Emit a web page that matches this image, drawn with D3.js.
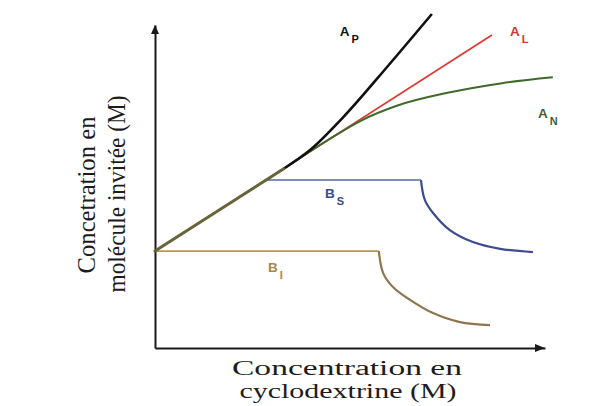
<!DOCTYPE html>
<html>
<head>
<meta charset="utf-8">
<script src="https://cdn.jsdelivr.net/npm/d3@7"></script>
<style>
  html, body { margin: 0; padding: 0; background: #fff; }
  svg { display: block; }
</style>
</head>
<body>
<svg id="chart" width="615" height="406"></svg>
<script>
// ---- Data (arbitrary units) ----
// shared rising segment (all A-type curves start on it)
const commonX = [0, 3.3];
const commonY = [3.0, 5.55];

const apX = [3.3, 4.0, 4.8, 6.0, 7.10];
const apY = [5.55, 6.15, 7.11, 8.77, 10.34];

const alX = [0, 8.64];
const alY = [3.0, 9.69];

const anX = [3.3, 4.41, 5.3, 6.2, 7.5, 8.9, 10.2];
const anY = [5.55, 6.42, 7.05, 7.5, 7.9, 8.2, 8.38];

const bsLineX = [0, 2.84, 6.82];
const bsLineY = [3.0, 5.2, 5.2];
const bsCurveX = [6.82, 6.92, 7.13, 7.56, 8.15, 8.85, 9.69];
const bsCurveY = [5.2, 4.58, 4.18, 3.65, 3.28, 3.07, 2.97];

const biLineX = [0, 5.74];
const biLineY = [3.0, 3.0];
const biCurveX = [5.74, 5.85, 6.10, 6.54, 7.13, 7.82, 8.59];
const biCurveY = [3.0, 2.32, 1.89, 1.49, 1.08, 0.80, 0.71];

// labels: main letter, subscript, anchor position in data units
const labelMain = ["A", "A", "A", "B", "B"];
const labelSub  = ["P", "L", "N", "S", "I"];
const labelX    = [4.74, 9.10, 9.82, 4.36, 2.90];
const labelY    = [9.66, 9.66, 7.12, 4.64, 2.36];

const xTitle = ["Concentration en", "cyclodextrine (M)"];
const yTitle = ["Concetration en", "molécule invitée (M)"];

// ---- Scales ----
const x = d3.scaleLinear().domain([0, 10]).range([155, 545]);
const y = d3.scaleLinear().domain([0, 10]).range([348, 25]);

const svg = d3.select("#chart");
const zip = (xs, ys) => xs.map((v, i) => [v, ys[i]]);

const lin = d3.line().x(d => x(d[0])).y(d => y(d[1])).curve(d3.curveLinear);
const mono = d3.line().x(d => x(d[0])).y(d => y(d[1])).curve(d3.curveMonotoneX);
const smooth = d3.line().x(d => x(d[0])).y(d => y(d[1])).curve(d3.curveCatmullRom.alpha(0.5));

// ---- Axes (no ticks) ----
const axisColor = "#1a1a1a";
const gx = svg.append("g").attr("transform", `translate(0,${y(0)})`)
  .call(d3.axisBottom(x).tickValues([]).tickSizeOuter(0));
gx.select(".domain").attr("stroke", axisColor).attr("stroke-width", 2);
const gy = svg.append("g").attr("transform", `translate(${x(0)},0)`)
  .call(d3.axisLeft(y).tickValues([]).tickSizeOuter(0));
gy.select(".domain").attr("stroke", axisColor).attr("stroke-width", 2);

// arrowheads
svg.append("path")
  .attr("d", `M${x(10)},${y(0)} l-10,-4 l0,8 Z`)
  .attr("fill", axisColor);
svg.append("path")
  .attr("d", `M${x(0)},${y(10)} l-4,9 l8,0 Z`)
  .attr("fill", axisColor);

// ---- Curves ----
// B_S
svg.append("path").attr("d", lin(zip(bsLineX, bsLineY)))
  .attr("fill", "none").attr("stroke", "#5868a8").attr("stroke-width", 1.4);
svg.append("path").attr("d", smooth(zip(bsCurveX, bsCurveY)))
  .attr("fill", "none").attr("stroke", "#3b4b8e").attr("stroke-width", 2.2);
// B_I
svg.append("path").attr("d", lin(zip(biLineX, biLineY)))
  .attr("fill", "none").attr("stroke", "#b8955a").attr("stroke-width", 1.6);
svg.append("path").attr("d", smooth(zip(biCurveX, biCurveY)))
  .attr("fill", "none").attr("stroke", "#8e7650").attr("stroke-width", 2.2);
// A_L
svg.append("path").attr("d", lin(zip(alX, alY)))
  .attr("fill", "none").attr("stroke", "#dc3a32").attr("stroke-width", 1.7);
// A_N
svg.append("path").attr("d", mono(zip(anX, anY)))
  .attr("fill", "none").attr("stroke", "#3f6a2c").attr("stroke-width", 2.0);
// A_P
svg.append("path").attr("d", mono(zip(apX, apY)))
  .attr("fill", "none").attr("stroke", "#111").attr("stroke-width", 2.6);
// common rising segment (olive blend of the overlapping curves)
svg.append("path").attr("d", lin(zip(commonX, commonY)))
  .attr("fill", "none").attr("stroke", "#66653a").attr("stroke-width", 3)
  .attr("stroke-linecap", "round");

// ---- Labels ----
const labelColors = ["#111", "#d8352b", "#3d5f33", "#3a4a8e", "#a8884a"];
labelMain.forEach((m, i) => {
  const t = svg.append("text")
    .attr("x", x(labelX[i])).attr("y", y(labelY[i]))
    .attr("font-family", "Liberation Sans, Arial, sans-serif")
    .attr("font-weight", "bold").attr("font-size", 13.5)
    .attr("fill", labelColors[i]);
  t.append("tspan").text(m);
  t.append("tspan").attr("dx", 2).attr("dy", 7).attr("font-size", 11).text(labelSub[i]);
});

// ---- Axis titles ----
const serif = "Liberation Serif, Times New Roman, serif";
const xtPos = [[347, 375, 230], [348, 398, 217]];
xTitle.forEach((s, i) => {
  svg.append("text")
    .attr("x", xtPos[i][0]).attr("y", xtPos[i][1])
    .attr("text-anchor", "middle")
    .attr("font-family", serif).attr("font-size", 20)
    .attr("fill", "#1c1c1c")
    .attr("textLength", xtPos[i][2]).attr("lengthAdjust", "spacingAndGlyphs")
    .text(s);
});
const ytPos = [[95, 195, 157], [125, 194, 197]];
yTitle.forEach((s, i) => {
  svg.append("text")
    .attr("transform", `translate(${ytPos[i][0]},${ytPos[i][1]}) scale(1.2,1) rotate(-90)`)
    .attr("text-anchor", "middle")
    .attr("font-family", serif).attr("font-size", 21)
    .attr("fill", "#1c1c1c")
    .attr("textLength", ytPos[i][2]).attr("lengthAdjust", "spacingAndGlyphs")
    .text(s);
});
</script>
</body>
</html>
